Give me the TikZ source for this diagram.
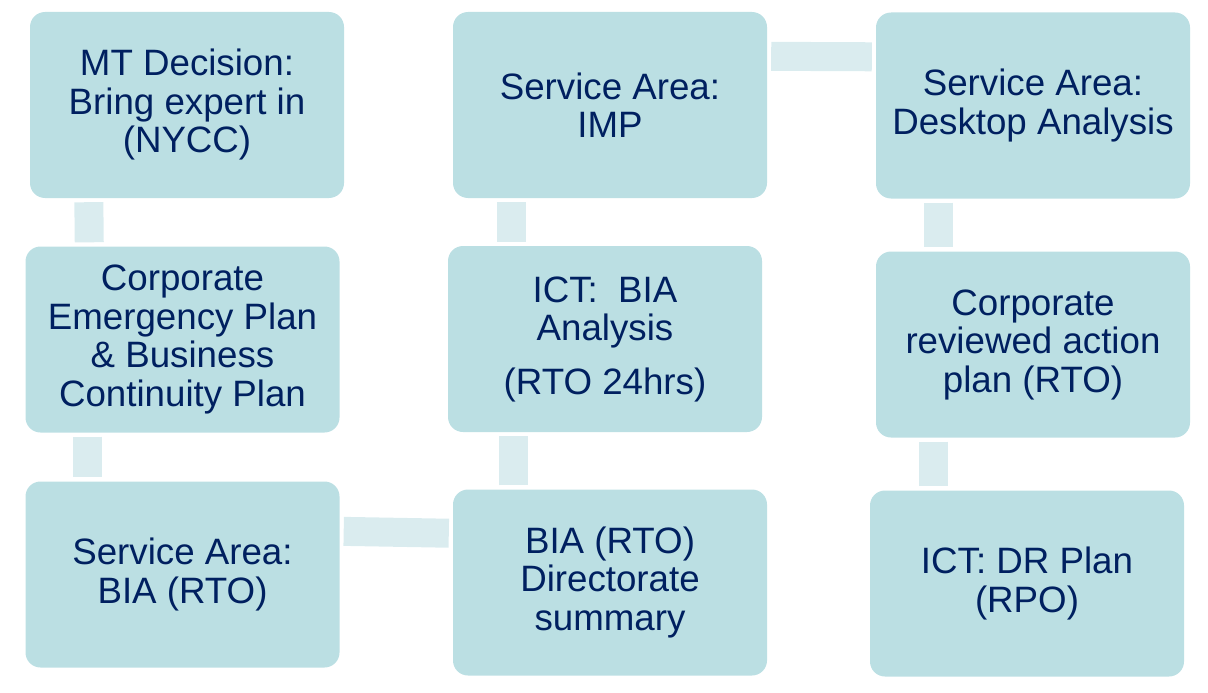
\documentclass[tikz,border=0pt]{standalone}
\usepackage{fontspec}
\setmainfont{Liberation Sans}
\usepackage{tikz}

\definecolor{boxfill}{HTML}{BBDFE3}
\definecolor{linkfill}{HTML}{DAECEF}
\definecolor{navy}{HTML}{002060}

\begin{document}
\begin{tikzpicture}[x=1pt, y=-1pt,
	stage/.style={fill=boxfill, rounded corners=15pt, minimum width=314pt, minimum height=186pt,
		inner sep=0pt, align=center, text=navy, font=\fontsize{36.7}{38.5}\selectfont},
	link/.style={draw=linkfill, line width=29pt, line cap=butt, shorten <=4pt, shorten >=4pt}]
	\useasboundingbox (0,0) rectangle (1208,693);
	\node[stage] (mt) at (187,105) {MT Decision:\\Bring expert in\\(NYCC)};
	\node[stage] (cep) at (182.5,339.5) {Corporate\\Emergency Plan\\\& Business\\Continuity Plan};
	\node[stage] (sabia) at (182.5,574.5) {Service Area:\\BIA (RTO)};
	\node[stage] (saimp) at (610,105) {Service Area:\\IMP};
	\node[stage] (ictbia) at (605,339) {ICT:\ \ BIA\\Analysis\\[15pt](RTO 24hrs)};
	\node[stage] (biadir) at (610,582.5) {BIA (RTO)\\Directorate\\summary};
	\node[stage] (sadesk) at (1033,105.5) {Service Area:\\Desktop Analysis};
	\node[stage] (corp) at (1033,344.5) {Corporate\\reviewed action\\plan (RTO)};
	\node[stage] (ictdr) at (1027,583.5) {ICT: DR Plan\\(RPO)};
	\draw[link] ([xshift=59pt]mt.south west) -- ([xshift=64pt]cep.north west);
	\draw[link] ([xshift=62.5pt]cep.south west) -- ([xshift=62.5pt]sabia.north west);
	\draw[link] ([yshift=-50pt]sabia.north east) -- ([yshift=-44pt]biadir.north west);
	\draw[link] ([xshift=60.5pt]biadir.north west) -- ([xshift=65.5pt]ictbia.south west);
	\draw[link] ([xshift=63.5pt]ictbia.north west) -- ([xshift=58.5pt]saimp.south west);
	\draw[link] ([yshift=-44.5pt]saimp.north east) -- ([yshift=-44.5pt]sadesk.north west);
	\draw[link] ([xshift=62.5pt]sadesk.south west) -- ([xshift=62.5pt]corp.north west);
	\draw[link] ([xshift=58pt]corp.south west) -- ([xshift=64pt]ictdr.north west);
\end{tikzpicture}
\end{document}
